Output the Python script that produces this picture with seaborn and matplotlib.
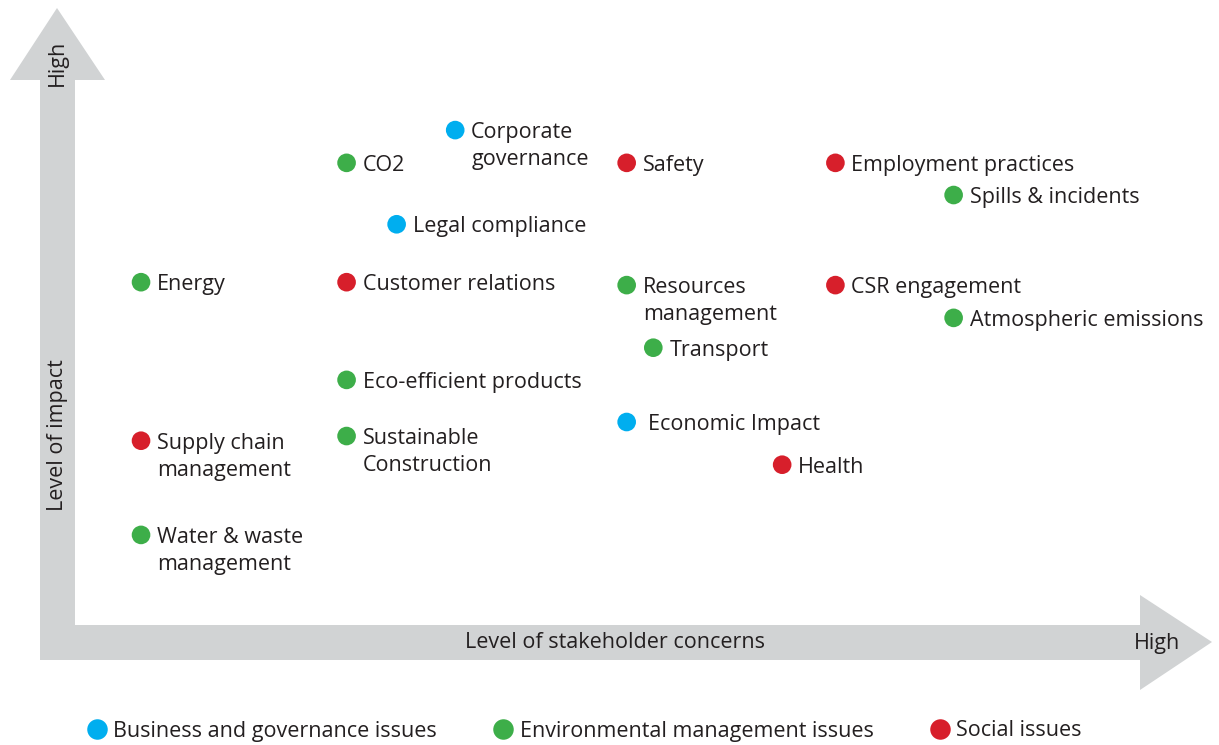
import numpy as np
import pandas as pd
import seaborn as sns
import matplotlib.pyplot as plt
from matplotlib.patches import Polygon

# materiality matrix: concern (x) and impact (y) scores on a 0-10 scale
issues = ["Corporate\ngovernance", "CO2", "Safety", "Employment practices",
          "Spills & incidents", "Legal compliance", "Energy", "Customer relations",
          "Resources\nmanagement", "CSR engagement", "Atmospheric emissions",
          "Transport", "Eco-efficient products", "Economic Impact",
          "Supply chain\nmanagement", "Sustainable\nConstruction", "Health",
          "Water & waste\nmanagement"]
concern = [3.57, 2.55, 5.18, 7.14, 8.25, 3.02, 0.62, 2.55, 5.18, 7.14, 8.25,
           5.43, 2.55, 5.18, 0.62, 2.55, 6.64, 0.62]
impact = [8.46, 7.90, 7.90, 7.90, 7.35, 6.85, 5.86, 5.86, 5.81, 5.81, 5.25,
          4.74, 4.19, 3.47, 3.15, 3.23, 2.74, 1.54]
category = ["Business and governance issues", "Environmental management issues",
            "Social issues", "Social issues", "Environmental management issues",
            "Business and governance issues", "Environmental management issues",
            "Social issues", "Environmental management issues", "Social issues",
            "Environmental management issues", "Environmental management issues",
            "Environmental management issues", "Business and governance issues",
            "Social issues", "Environmental management issues", "Social issues",
            "Environmental management issues"]

groups = ["Business and governance issues", "Environmental management issues", "Social issues"]
colors = ["#00AEEF", "#3DAE49", "#D71F2B"]

sns.set_theme(style="white")
plt.rcParams['font.family'] = ['Open Sans', 'DejaVu Sans']
text_col = "#231F20"
fs = 15.5

W, H = 1219, 745
fig = plt.figure(figsize=(W / 100, H / 100), dpi=100)

# background axes in pixel units for the gray arrows
bg = fig.add_axes([0, 0, 1, 1])
bg.set_xlim(0, W)
bg.set_ylim(H, 0)
bg.axis("off")
gray = "#D1D3D4"
bg.add_patch(Polygon([(40, 660), (40, 80), (10, 80), (57, 8), (105, 80), (75, 80),
                      (75, 625), (1140, 625), (1140, 595), (1212, 642), (1140, 690),
                      (1140, 660)], closed=True, color=gray, lw=0))
bg.text(57, 63, "High", rotation=90, ha="center", va="center", fontsize=fs, color=text_col)
bg.text(57, 435, "Level of impact", rotation=90, ha="center", va="center", fontsize=fs, color=text_col)
bg.text(1157, 643, "High", ha="center", va="center", fontsize=fs, color=text_col)
bg.text(615, 643, "Level of stakeholder concerns", ha="center", va="center", fontsize=fs, color=text_col)

ax = fig.add_axes([75 / W, (H - 625) / H, (1140 - 75) / W, (625 - 40) / H])
ax.patch.set_alpha(0)
df = pd.DataFrame({"issue": issues, "concern": concern, "impact": impact, "category": category})
sns.scatterplot(data=df, x="concern", y="impact", hue="category", hue_order=groups,
                palette=dict(zip(groups, colors)), s=180, linewidth=0, ax=ax)
ax.set_xlim(0, 10)
ax.set_ylim(0, 10)
ax.axis("off")

line_step = 19.5  # points between label lines
for name, x, y in zip(issues, concern, impact):
    dx = 15 if name == "Economic Impact" else 11.5
    for i, part in enumerate(name.split("\n")):
        ax.annotate(part, (x, y), xytext=(dx, -i * line_step), textcoords="offset points",
                    ha="left", va="center_baseline", fontsize=fs, color=text_col)

sns.move_legend(ax, "center left", bbox_to_anchor=(86 / W, 1 - 731 / H),
                bbox_transform=fig.transFigure, ncol=3, frameon=False, title=None,
                fontsize=fs, columnspacing=2.6, handlelength=1.0, handletextpad=0.25,
                borderpad=0, borderaxespad=0, markerscale=1.1, labelcolor=text_col)

fig.savefig("out.png", dpi=100)
